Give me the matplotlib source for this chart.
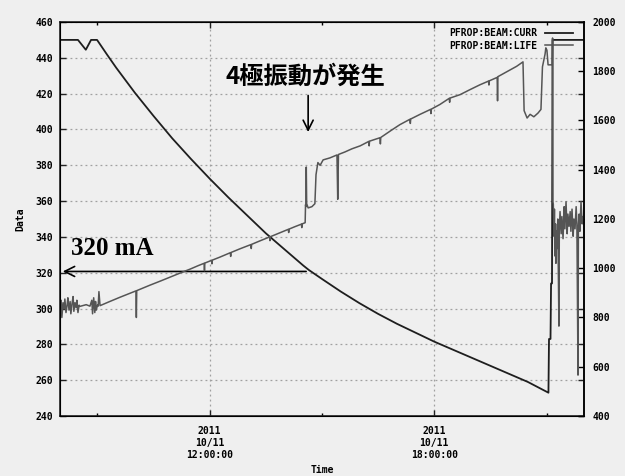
import matplotlib.pyplot as plt
import matplotlib.dates as mdates
import pandas as pd

# beam current (mA), time in hours of 2011-10-11
curr_h = [8.00, 8.48, 8.69, 8.83, 8.99, 9.25, 9.5, 10.0, 10.5, 11.0, 11.5, 12.0, 12.5,
          13.0, 13.5, 14.0, 14.5, 14.65, 15.0, 15.5, 16.0, 16.5, 17.0, 17.5, 18.0,
          18.5, 19.0, 19.5, 20.0, 20.5, 21.05, 21.065, 21.105, 21.12, 21.145, 21.16, 22.0]
curr_ma = [450, 450, 444.5, 450, 450, 442, 434.5, 420.5, 407.5, 395, 383.5, 372.5, 362,
           352, 342, 333, 324, 321.5, 316.5, 309.5, 303, 297, 291.5, 286.5, 281.5,
           277, 272.5, 268, 263.5, 259, 253, 283, 283, 314, 314, 450, 450]

# beam lifetime (min)
life_h = [8.00, 8.03, 8.05, 8.08, 8.11, 8.13, 8.16, 8.19, 8.21, 8.24, 8.27, 8.29, 8.32,
          8.35, 8.37, 8.40, 8.43, 8.45, 8.48, 8.51, 8.53,
          8.60, 8.70, 8.80, 8.85, 8.87, 8.90, 8.93, 8.95, 8.97, 9.00, 9.02, 9.04, 9.07,
          9.30, 9.60, 10.03, 10.04, 10.05, 10.40, 10.70, 11.07, 11.30, 11.47, 11.70,
          11.85, 11.86, 11.87, 12.05, 12.06, 12.07, 12.27, 12.55, 12.56, 12.57, 12.81,
          13.10, 13.11, 13.12, 13.34, 13.60, 13.61, 13.62, 13.88, 14.10, 14.11, 14.12,
          14.28, 14.45, 14.46, 14.47, 14.55,
          14.56, 14.57, 14.58, 14.59, 14.63, 14.73, 14.81, 14.84, 14.89, 14.95, 15.03,
          15.21, 15.40, 15.42, 15.44, 15.61, 15.80, 16.02, 16.25, 16.26, 16.27, 16.55,
          16.56, 16.57, 16.85, 17.08, 17.35, 17.36, 17.37, 17.62, 17.90, 17.91, 17.92,
          18.15, 18.40, 18.41, 18.42, 18.69, 18.95, 19.22, 19.45, 19.46, 19.47, 19.68,
          19.69, 19.70, 20.02, 20.20, 20.37,
          20.40, 20.48, 20.56, 20.66, 20.77, 20.85, 20.89, 20.96, 20.98, 21.01, 21.04,
          21.15, 21.16, 21.17,
          21.18, 21.20, 21.21, 21.22, 21.24, 21.25, 21.26, 21.28, 21.30, 21.33, 21.34,
          21.36, 21.39, 21.41, 21.44, 21.47, 21.49, 21.52, 21.55, 21.57, 21.60, 21.63,
          21.65, 21.68, 21.71, 21.73, 21.76, 21.79, 21.81, 21.84, 21.85, 21.87, 21.89,
          21.92, 21.95, 21.97, 22.00]
life_min = [840, 870, 800, 860, 835, 875, 820, 850, 880, 830, 865, 815, 855,
            885, 825, 860, 840, 870, 820, 850, 845,
            848, 852, 846, 870, 815, 880, 820, 865, 830, 850, 846, 905, 848,
            863, 882, 908, 800, 909, 931, 949, 972, 986, 996, 1011,
            1020, 990, 1021, 1032, 1018, 1033, 1045, 1063, 1048, 1064, 1079,
            1096, 1080, 1097, 1111, 1127, 1112, 1128, 1144, 1158, 1145, 1159,
            1169, 1179, 1165, 1180, 1185,
            1258, 1250, 1411, 1262, 1245, 1250, 1262, 1380, 1429, 1418, 1440,
            1448, 1460, 1280, 1462, 1472, 1485, 1497, 1515, 1497, 1516, 1530,
            1505, 1531, 1560, 1583, 1605, 1588, 1606, 1625, 1645, 1628, 1646,
            1665, 1690, 1674, 1691, 1705, 1725, 1745, 1760, 1744, 1761, 1775,
            1680, 1778, 1805, 1820, 1838,
            1640, 1610, 1625, 1615, 1630, 1645, 1818, 1870, 1895, 1885, 1826,
            1826, 1935, 1270,
            1260, 1130, 1240, 1050, 1180, 1020, 1150, 1080, 1200, 765, 1150,
            1230, 1140, 1210, 1120, 1250, 1160, 1270, 1140, 1220, 1170, 1230,
            1150, 1240, 1130, 1200, 1160, 1250, 1180, 566, 1170, 1220, 1150,
            1270, 1180, 1210, 1190]

day = pd.Timestamp("2011-10-11")
curr_t = day + pd.to_timedelta(curr_h, unit="h")
life_t = day + pd.to_timedelta(life_h, unit="h")

bg = "#efefef"
tickfont = {"family": "DejaVu Sans Mono", "weight": "bold", "size": 7}

fig = plt.figure(figsize=(6.25, 4.76), dpi=100, facecolor=bg)
ax = fig.add_axes([0.096, 0.1261, 0.8384, 0.8277])
ax.set_facecolor(bg)
ax2 = ax.twinx()

l1, = ax.plot(curr_t, curr_ma, color="#1e1e1e", lw=1.3)
l2, = ax2.plot(life_t, life_min, color="#555555", lw=1.1)

ax.set_xlim(day + pd.Timedelta(hours=8), day + pd.Timedelta(hours=22))
ax.set_ylim(240, 460)
ax2.set_ylim(400, 2000)
ax.set_yticks(range(240, 461, 20))
ax2.set_yticks(range(400, 2001, 200))

ax.xaxis.set_major_locator(mdates.HourLocator(byhour=[12, 18]))
ax.xaxis.set_minor_locator(mdates.HourLocator(byhour=[9, 15, 21]))
ax.xaxis.set_major_formatter(mdates.DateFormatter("%Y\n%m/%d\n%H:%M:%S"))

ax.grid(True, which="major", color="#a0a0a0", linestyle=(0, (1.5, 2.5)), lw=0.9)
ax.tick_params(axis="both", which="major", direction="in", length=4, width=1,
               top=True, right=True, color="#222222")
ax.tick_params(axis="x", which="minor", direction="in", length=2.5, width=1, top=True)
ax.tick_params(axis="y", pad=5)
ax.tick_params(axis="x", pad=7)
ax2.tick_params(axis="y", direction="in", length=4, width=1, pad=6)
for lab in ax.get_xticklabels() + ax.get_yticklabels() + ax2.get_yticklabels():
    lab.set_fontproperties(tickfont)
for lab in ax.get_xticklabels():
    lab.set_linespacing(1.3)

for sp in ax.spines.values():
    sp.set_linewidth(1.2)
    sp.set_color("#222222")
ax2.spines["right"].set_linewidth(1.2)

ax.set_ylabel("Data", fontdict=tickfont, labelpad=7)
ax.set_xlabel("Time", fontdict=tickfont, labelpad=3)

ax2.legend([l1, l2], ["PFROP:BEAM:CURR", "PFROP:BEAM:LIFE"], loc="upper right",
           bbox_to_anchor=(0.987, 0.994), markerfirst=False, frameon=False,
           handlelength=2.9, labelspacing=0.25, borderaxespad=0.2, borderpad=0.2,
           prop={"family": "DejaVu Sans Mono", "weight": "bold", "size": 7})

# annotations
ax.annotate("", xy=(day + pd.Timedelta(hours=8.0), 320.7),
            xytext=(day + pd.Timedelta(hours=14.65), 320.7),
            arrowprops=dict(arrowstyle="->", color="black", lw=1.2, mutation_scale=18))
ax.text(day + pd.Timedelta(hours=8.3), 327, "320 mA", family="Liberation Serif",
        weight="bold", fontsize=18, ha="left", va="bottom")
ax.annotate("", xy=(day + pd.Timedelta(hours=14.63), 397),
            xytext=(day + pd.Timedelta(hours=14.63), 420.5),
            arrowprops=dict(arrowstyle="->", color="black", lw=1.2, mutation_scale=18))
ax.text(day + pd.Timedelta(hours=14.55), 429.5, "4極振動が発生",
        family=["Noto Sans CJK JP", "DejaVu Sans"], weight="bold", fontsize=17.5,
        ha="center", va="center")

fig.savefig("out.png", dpi=100, facecolor=bg)
